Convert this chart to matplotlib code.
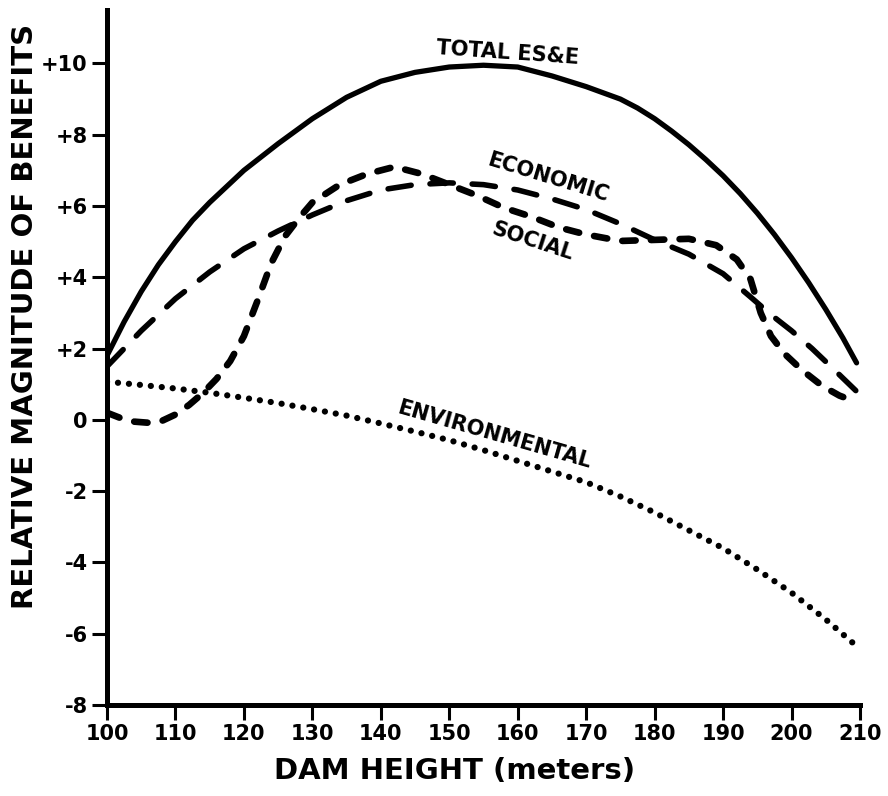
import matplotlib
matplotlib.use("Agg")
import matplotlib.pyplot as plt

# values (dam height in meters)
total_x = [100, 102.5, 105, 107.5, 110, 112.5, 115, 117.5, 120, 125, 130, 135, 140, 145,
           150, 155, 160, 165, 170, 175, 177.5, 180, 182.5, 185, 187.5, 190, 192.5, 195,
           197.5, 200, 202.5, 205, 207.5, 209.5]
total_y = [1.8, 2.75, 3.6, 4.35, 5.0, 5.6, 6.1, 6.55, 7.0, 7.75, 8.45, 9.05, 9.5, 9.75,
           9.9, 9.95, 9.9, 9.65, 9.35, 9.0, 8.75, 8.45, 8.1, 7.72, 7.3, 6.85, 6.35, 5.8,
           5.2, 4.55, 3.85, 3.1, 2.3, 1.6]

economic_x = [100, 105, 110, 115, 120, 125, 130, 135, 140, 145, 150, 155, 160, 165, 170,
              175, 180, 185, 190, 194, 197, 200, 203, 206, 209.5]
economic_y = [1.5, 2.5, 3.4, 4.15, 4.8, 5.3, 5.75, 6.15, 6.45, 6.6, 6.65, 6.6, 6.45, 6.2, 5.9,
              5.5, 5.05, 4.65, 4.1, 3.45, 2.95, 2.5, 2.0, 1.45, 0.8]

social_x = [100, 102, 104, 106, 108, 110, 112, 114, 116, 118, 120, 122, 124, 126, 128, 130,
            134, 138, 142, 146, 150, 154, 158, 162, 166, 170, 175, 180, 185, 189, 192, 194,
            195.5, 197, 199, 201.5, 204.5, 207, 209.5]
social_y = [0.2, 0.05, -0.05, -0.08, -0.03, 0.15, 0.42, 0.75, 1.15, 1.65, 2.35, 3.35, 4.4,
            5.15, 5.65, 6.1, 6.6, 6.9, 7.1, 6.9, 6.6, 6.3, 5.95, 5.7, 5.4, 5.2, 5.02, 5.05,
            5.08, 4.9, 4.5, 3.95, 3.0, 2.35, 1.85, 1.4, 0.95, 0.68, 0.5]

env_x = [100, 105, 110, 115, 120, 125, 130, 135, 140, 145, 150, 155, 160, 165, 170, 175,
         180, 185, 190, 195, 200, 205, 210]
env_y = [1.07, 0.98, 0.88, 0.76, 0.62, 0.47, 0.3, 0.12, -0.1, -0.33, -0.57, -0.85, -1.15,
         -1.45, -1.75, -2.15, -2.6, -3.1, -3.6, -4.2, -4.85, -5.6, -6.43]

x_ticks = [100, 110, 120, 130, 140, 150, 160, 170, 180, 190, 200, 210]
y_ticks = [10, 8, 6, 4, 2, 0, -2, -4, -6, -8]
y_tick_labels = ["+10", "+8", "+6", "+4", "+2", "0", "-2", "-4", "-6", "-8"]

fig = plt.figure(figsize=(8.88, 7.96), dpi=100)
ax = fig.add_axes([107 / 888, 1 - 705 / 796, (860 - 107) / 888, (705 - 10) / 796])

ax.plot(total_x, total_y, color="black", lw=3.8, solid_capstyle="round",
        solid_joinstyle="round")
ax.plot(economic_x, economic_y, color="black", lw=4.0,
        linestyle=(0, (4.2, 3.4)), dash_capstyle="round")
ax.plot(social_x, social_y, color="black", lw=4.8,
        linestyle=(0, (2.0, 2.3)), dash_capstyle="round")
ax.plot(env_x, env_y, color="black", lw=4.5,
        linestyle=(0, (0.01, 1.75)), dash_capstyle="round")

# curve labels
label_font = dict(fontsize=15, fontweight="bold", color="black",
                  ha="center", va="center", family="DejaVu Sans")
ax.text(158.6, 10.3, "TOTAL ES&E", rotation=-4, **label_font)
ax.text(164.4, 6.8, "ECONOMIC", rotation=-17, **label_font)
ax.text(162.2, 5.0, "SOCIAL", rotation=-18, **label_font)
ax.text(156.5, -0.42, "ENVIRONMENTAL", rotation=-16, **label_font)

ax.set_xlim(100, 210)
ax.set_ylim(-8, 11.5)
ax.set_xticks(x_ticks)
ax.set_yticks(y_ticks)
ax.set_yticklabels(y_tick_labels)

for side in ["top", "right"]:
    ax.spines[side].set_visible(False)
for side in ["left", "bottom"]:
    ax.spines[side].set_linewidth(3.6)
    ax.spines[side].set_capstyle("projecting")

ax.tick_params(axis="both", direction="out", length=11, width=2.2, pad=3,
               labelsize=15)
for lab in ax.get_xticklabels() + ax.get_yticklabels():
    lab.set_fontweight("bold")

fig.text(25 / 888, 1 - 316 / 796, "RELATIVE MAGNITUDE OF BENEFITS", rotation=90,
         fontsize=21, fontweight="bold", ha="center", va="center")
fig.text(455 / 888, 1 - 771 / 796, "DAM HEIGHT (meters)",
         fontsize=21, fontweight="bold", ha="center", va="center")

fig.savefig("out.png", dpi=100)
